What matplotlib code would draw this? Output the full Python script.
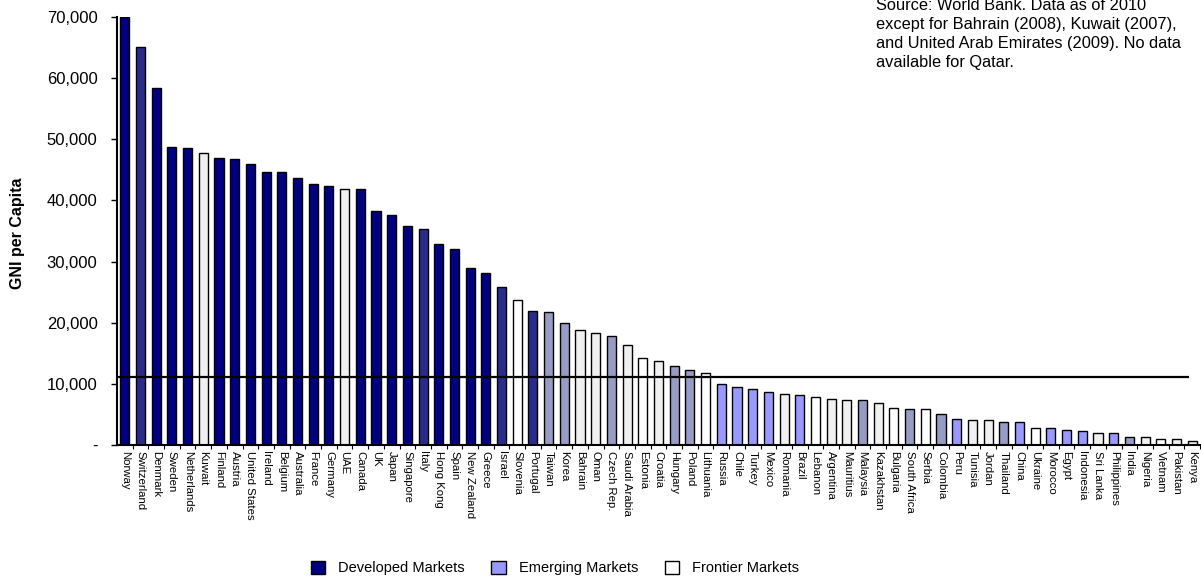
import matplotlib
matplotlib.use("Agg")
from matplotlib import pyplot as plt
from matplotlib.patches import Patch
from matplotlib.ticker import FuncFormatter, FixedLocator

plt.rcParams['font.family'] = ['Liberation Sans', 'DejaVu Sans']

# GNI per capita (USD)
countries = ['Norway', 'Switzerland', 'Denmark', 'Sweden', 'Netherlands', 'Kuwait', 'Finland',
             'Austria', 'United States', 'Ireland', 'Belgium', 'Australia', 'France', 'Germany',
             'UAE', 'Canada', 'UK', 'Japan', 'Singapore', 'Italy', 'Hong Kong', 'Spain',
             'New Zealand', 'Greece', 'Israel', 'Slovenia', 'Portugal', 'Taiwan', 'Korea',
             'Bahrain', 'Oman', 'Czech Rep.', 'Saudi Arabia', 'Estonia', 'Croatia', 'Hungary',
             'Poland', 'Lithuania', 'Russia', 'Chile', 'Turkey', 'Mexico', 'Romania', 'Brazil',
             'Lebanon', 'Argentina', 'Mauritius', 'Malaysia', 'Kazakhstan', 'Bulgaria',
             'South Africa', 'Serbia', 'Colombia', 'Peru', 'Tunisia', 'Jordan', 'Thailand',
             'China', 'Ukraine', 'Morocco', 'Egypt', 'Indonesia', 'Sri Lanka', 'Philippines',
             'India', 'Nigeria', 'Vietnam', 'Pakistan', 'Kenya']
gni = [70000, 65050, 58440, 48790, 48520, 47760, 47000,
       46720, 45960, 44650, 44650, 43700, 42660, 42360,
       41900, 41900, 38300, 37570, 35820, 35300, 32870, 32060,
       28870, 28130, 25840, 23720, 21920, 21700, 19900,
       18810, 18370, 17830, 16300, 14230, 13790, 12970,
       12220, 11730, 9930, 9490, 9160, 8620, 8340, 8130,
       7900, 7600, 7360, 7360, 6920, 6050,
       5840, 5840, 5070, 4250, 4040, 4040, 3810,
       3810, 2730, 2730, 2450, 2240, 1960, 1960,
       1260, 1260, 980, 980, 700]
# group code per bar: D developed, d developed (lighter), e advanced emerging,
# E emerging, F frontier (grey), f frontier (white)
groups = ['D', 'd', 'D', 'D', 'D', 'F', 'D',
          'D', 'D', 'D', 'D', 'D', 'D', 'D',
          'F', 'D', 'D', 'D', 'D', 'd', 'D', 'D',
          'D', 'D', 'd', 'f', 'd', 'e', 'e',
          'F', 'F', 'e', 'F', 'f', 'F', 'e',
          'e', 'f', 'E', 'E', 'E', 'E', 'F', 'E',
          'f', 'F', 'F', 'e', 'F', 'f',
          'e', 'f', 'e', 'E', 'F', 'F', 'e',
          'E', 'f', 'E', 'E', 'E', 'F', 'E',
          'e', 'F', 'f', 'F', 'F']
threshold = 11100

colors = {'D': '#000080', 'd': '#2b2b8c', 'e': '#969cc4', 'E': '#9999ff',
          'F': '#f0f0f0', 'f': '#ffffff'}

fig = plt.figure(figsize=(12.01, 5.82), dpi=100)
ax = fig.add_axes([117 / 1201, 137 / 582, 1083 / 1201, 428 / 582])

x = list(range(len(countries)))
ax.bar(x, gni, width=0.58, color=[colors[g] for g in groups],
       edgecolor='black', linewidth=1.0, zorder=2)
ax.hlines(threshold, -0.5, 67.8, color='black', linewidth=1.6, zorder=3)

ax.set_xlim(-0.5, len(countries) - 0.5)
ax.set_ylim(0, 70000)
ax.set_yticks(range(0, 70001, 10000))
ax.yaxis.set_major_formatter(FuncFormatter(lambda v, p: '-' if v == 0 else f'{int(v):,}'))
ax.tick_params(axis='y', labelsize=12, length=4, width=1, pad=10)

ax.set_xticks(x)
ax.set_xticklabels(countries, rotation=270, fontsize=8.2, va='top', ha='center')
ax.tick_params(axis='x', which='major', length=0, pad=4)
ax.xaxis.set_minor_locator(FixedLocator([i + 0.5 for i in x]))
ax.tick_params(axis='x', which='minor', length=3, width=0.8)

for s in ['top', 'right']:
    ax.spines[s].set_visible(False)
ax.spines['left'].set_linewidth(1.5)
ax.spines['bottom'].set_linewidth(1.5)

fig.text(18 / 1201, 1 - 233 / 582, 'GNI per Capita', rotation=90, fontsize=11.5,
         fontweight='bold', ha='center', va='center')

fig.text(876 / 1201, 1 + 2 / 582,
         'Source: World Bank. Data as of 2010\nexcept for Bahrain (2008), Kuwait (2007),\n'
         'and United Arab Emirates (2009). No data\navailable for Qatar.',
         fontsize=11.8, ha='left', va='top', linespacing=1.34)

handles = [Patch(facecolor='#000080', edgecolor='black', label='Developed Markets'),
           Patch(facecolor='#9999ff', edgecolor='black', label='Emerging Markets'),
           Patch(facecolor='#ffffff', edgecolor='black', label='Frontier Markets')]
fig.legend(handles=handles, loc='center', bbox_to_anchor=(555 / 1201, 1 - 568 / 582),
           ncol=3, frameon=False, fontsize=10.5, handlelength=1.0, handleheight=1.0,
           columnspacing=1.8, handletextpad=0.9)

fig.savefig('out.png', dpi=100)
